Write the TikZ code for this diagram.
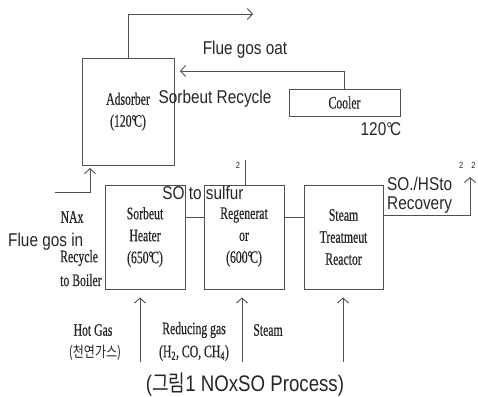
\documentclass[tikz,border=0pt]{standalone}
\usepackage{fontspec}
\setmainfont{Liberation Serif}
\newfontfamily\sanscond[FakeStretch=0.83]{Liberation Sans}
\newfontfamily\serifcond[FakeStretch=0.67,FakeBold=0.6]{Liberation Serif}
\newfontfamily\krfont[FakeStretch=0.8]{Noto Sans CJK KR}
\usetikzlibrary{arrows.meta,positioning}
\definecolor{ink}{HTML}{505050}
\definecolor{txt}{HTML}{262626}
\newcommand\degc{\textdegree\kern-0.12em C}
\begin{document}
\begin{tikzpicture}[x=1pt,y=-1pt,
  box/.style={draw=ink,line width=0.9pt,inner sep=0pt,align=center,text=txt,font=\serifcond\fontsize{17.5}{22}\selectfont},
  link/.style={draw=ink,line width=0.9pt},
  arr/.style={link,-{Straight Barb[length=5pt,width=11pt]}},
  sans/.style={text=txt,font=\sanscond\fontsize{18.5}{20}\selectfont,inner sep=0pt},
  serif/.style={text=txt,font=\serifcond\fontsize{17.5}{22}\selectfont,inner sep=0pt,align=center},
  tiny/.style={text=txt,font=\sanscond\fontsize{9}{10}\selectfont,inner sep=0pt},
]
  \useasboundingbox (0,0) rectangle (478,396);

  \node[box,minimum width=92pt,minimum height=107pt] (ads) at (128,111.5) {Adsorber\\(120\degc)};
  \node[box,minimum width=111pt,minimum height=27pt] (cool) at (344.5,102.5) {Cooler};
  \node[box,minimum width=80pt,minimum height=104pt] (heat) at (145,237) {Sorbeut\\Heater\\(650\degc)};
  \node[box,minimum width=80pt,minimum height=104pt] (regen) at (244,237) {Regenerat\\or\\(600\degc)};
  \node[box,minimum width=79pt,minimum height=104pt] (steam) at (343.5,237) {Steam\\Treatmeut\\Reactor};

  \coordinate (fout) at (253,14);
  \coordinate (recin) at (180,71);
  \coordinate (fin) at (55,192);
  \coordinate (finend) at (90,168);
  \coordinate (sotop) at (245,160);
  \coordinate (recov) at (470,177);
  \coordinate (inhg) at (140,362);
  \coordinate (inrg) at (242,362);
  \coordinate (inst) at (343,362);

  \draw[arr] (ads.north) |- (fout);
  \draw[arr] (cool.north) |- (recin);
  \draw[arr] (fin) -| (finend);
  \draw[link] (sotop) -- (sotop |- regen.north);
  \draw[link] ([yshift=20pt]heat.east) -- ([yshift=20pt]regen.west);
  \draw[link] ([yshift=20pt]regen.east) -- ([yshift=20pt]steam.west);
  \draw[arr] ([yshift=22pt]steam.east) -| (recov);
  \draw[arr,shorten >=8pt] (inhg) -- (inhg |- heat.south);
  \draw[arr,shorten >=8pt] (inrg) -- (inrg |- regen.south);
  \draw[arr,shorten >=8pt] (inst) -- (inst |- steam.south);

  \node[sans] (fgout) at (245,50) {Flue gos oat};
  \node[sans] (sorrec) at (215,99) {Sorbeut Recycle};
  \node[sans] (ctemp) at (381,129) {120\degc};
  \node[tiny] (two1) at (238,165) {2};
  \node[sans] (sosul) at (203,193) {SO to sulfur};
  \node[sans,anchor=west] (sohs) at (387,184) {SO./HSto};
  \node[sans,anchor=west] (recv) at (387,205) {Recovery};
  \node[tiny,anchor=west] (two2) at (459,165) {2\hspace{8pt}2};
  \node[serif] (nax) at (72,217) {NAx};
  \node[sans,anchor=west] (fgin) at (8,242) {Flue gos in};
  \node[serif,anchor=west] (rcy) at (60,258) {Recycle};
  \node[serif,anchor=west] (boil) at (60,280) {to Boiler};
  \node[serif] (hotgas) at (93,330) {Hot Gas};
  \node[text=txt,font=\krfont\fontsize{15}{16}\selectfont,inner sep=0pt] (lng) at (95,353) {(천연가스)};
  \node[serif] (redgas) at (194,330) {Reducing gas};
  \node[serif] (redmix) at (194,353) {(H\textsubscript{2}, CO, CH\textsubscript{4})};
  \node[serif] (stin) at (268,330) {Steam};
  \node[text=txt,font=\sanscond\fontsize{22.5}{24}\selectfont,inner sep=0pt] (cap) at (245,385) {(\krfont 그림\sanscond 1 NOxSO Process)};
\end{tikzpicture}
\end{document}
